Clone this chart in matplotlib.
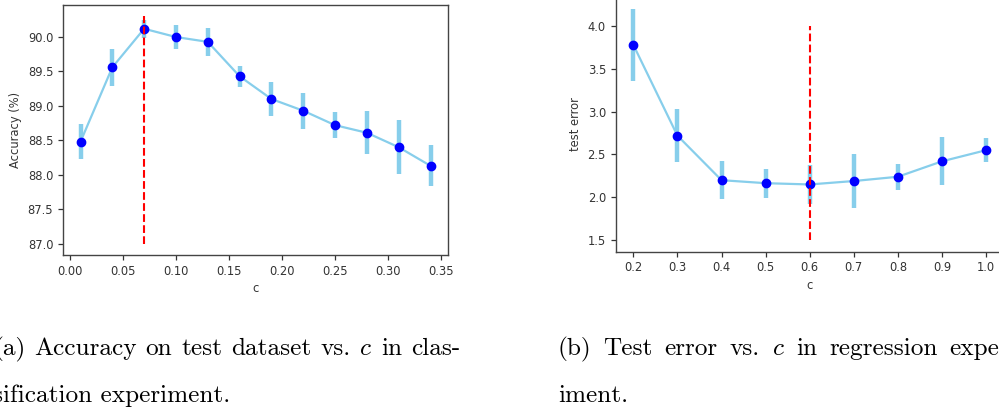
import matplotlib
matplotlib.use("Agg")
import matplotlib.pyplot as plt

# ---- data: classification (left) ----
c_cls = [0.01, 0.04, 0.07, 0.10, 0.13, 0.16, 0.19, 0.22, 0.25, 0.28, 0.31, 0.34]
acc = [88.48, 89.56, 90.12, 90.00, 89.93, 89.43, 89.10, 88.93, 88.72, 88.61, 88.40, 88.13]
acc_err = [0.25, 0.27, 0.13, 0.18, 0.20, 0.15, 0.25, 0.26, 0.19, 0.31, 0.39, 0.30]
cls_best_c = 0.07
cls_vline = [87.0, 90.3]
cls_xticks = [0.00, 0.05, 0.10, 0.15, 0.20, 0.25, 0.30, 0.35]
cls_yticks = [87.0, 87.5, 88.0, 88.5, 89.0, 89.5, 90.0]

# ---- data: regression (right) ----
c_reg = [0.2, 0.3, 0.4, 0.5, 0.6, 0.7, 0.8, 0.9, 1.0]
err = [3.78, 2.72, 2.20, 2.165, 2.15, 2.19, 2.24, 2.42, 2.55]
err_err = [0.42, 0.31, 0.22, 0.17, 0.23, 0.31, 0.15, 0.28, 0.14]
reg_best_c = 0.6
reg_vline = [1.5, 4.0]
reg_xticks = [0.2, 0.3, 0.4, 0.5, 0.6, 0.7, 0.8, 0.9, 1.0]
reg_yticks = [1.5, 2.0, 2.5, 3.0, 3.5, 4.0]

cap_a = ["(a) Accuracy on test dataset vs. $c$ in clas-", "sification experiment."]
cap_b = ["(b) Test error vs. $c$ in regression exper-", "iment."]

plt.rcParams['mathtext.fontset'] = 'cm'
W, H = 999, 408
fig = plt.figure(figsize=(W / 100, H / 100), dpi=100)

ax1 = fig.add_axes([63 / W, (H - 255) / H, 385 / W, 250 / H])
ax2 = fig.add_axes([615.7 / W, (H - 251.7) / H, 388 / W, 254.4 / H])

tick_col = '#333333'
spine_col = '#444444'


def draw(ax, x, y, e, bx, vl, xt, yt, xlabel, ylabel, xfmt, yfmt):
    ax.vlines(bx, vl[0], vl[1], colors='red', linestyles='--', linewidth=1.5, zorder=4)
    ax.errorbar(x, y, yerr=e, color='skyblue', ecolor='skyblue', elinewidth=3.2,
                linewidth=1.6, marker='o', markersize=6, markerfacecolor='blue',
                markeredgecolor='blue', zorder=3)
    ax.set_xticks(xt)
    ax.set_yticks(yt)
    ax.set_xticklabels([xfmt.format(v) for v in xt])
    ax.set_yticklabels([yfmt.format(v) for v in yt])
    ax.tick_params(labelsize=8.3, colors=tick_col, length=3.5, width=0.9)
    ax.set_xlabel(xlabel, fontsize=8.3, color=tick_col, labelpad=3)
    ax.set_ylabel(ylabel, fontsize=8.3, color=tick_col)
    for s in ax.spines.values():
        s.set_color(spine_col)
        s.set_linewidth(1.0)


draw(ax1, c_cls, acc, acc_err, cls_best_c, cls_vline, cls_xticks, cls_yticks,
     'c', 'Accuracy (%)', '{:.2f}', '{:.1f}')
draw(ax2, c_reg, err, err_err, reg_best_c, reg_vline, reg_xticks, reg_yticks,
     'c', 'test error', '{:.1f}', '{:.1f}')

cap_kw = dict(fontfamily='cmr10', fontsize=18.2, va='baseline', ha='left', color='black')
renderer = fig.canvas.get_renderer()


def justified(line, x0, x1, ybase):
    """Place words of a line so that it spans x0..x1 pixels (justified)."""
    words = line.split(' ')
    texts = [fig.text(0, (H - ybase) / H, w, **cap_kw) for w in words]
    widths = [t.get_window_extent(renderer).width for t in texts]
    gap = (x1 - x0 - sum(widths)) / (len(words) - 1)
    x = x0
    for t, wd in zip(texts, widths):
        t.set_x(x / W)
        x += wd + gap


justified(cap_a[0], -7, 460, 355)
fig.text(-7 / W, (H - 401.7) / H, cap_a[1], **cap_kw)
justified(cap_b[0], 558, 1017, 355)
fig.text(558 / W, (H - 401.7) / H, cap_b[1], **cap_kw)

fig.savefig('out.png', dpi=100)
